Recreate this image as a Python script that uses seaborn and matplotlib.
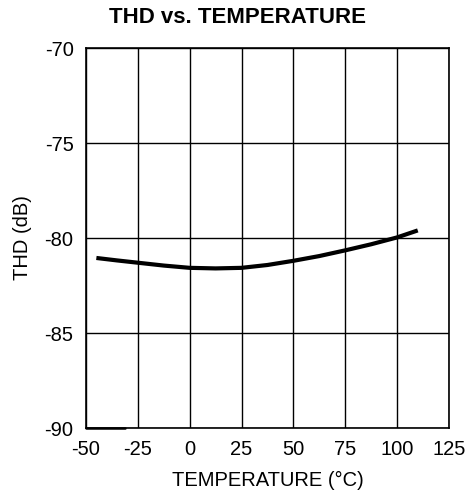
import numpy as np
import pandas as pd
import matplotlib
matplotlib.use("Agg")
import matplotlib.pyplot as plt
import seaborn as sns

temperature = [-45, -35, -25, -12.5, 0, 12.5, 25, 37.5, 50, 62.5, 75, 87.5, 100, 110]
thd_db = [-81.05, -81.18, -81.3, -81.45, -81.57, -81.6, -81.57, -81.42,
          -81.2, -80.95, -80.65, -80.33, -79.97, -79.6]

# short stub along the bottom edge seen in the original
stub_temp = [-50, -31]
stub_thd = [-90, -90]

x_ticks = [-50, -25, 0, 25, 50, 75, 100, 125]
y_ticks = [-90, -85, -80, -75, -70]

sns.set_theme(style="white")
plt.rcParams["font.family"] = ["Liberation Sans", "DejaVu Sans"]

df = pd.DataFrame({"temp": temperature, "thd": thd_db})

fig = plt.figure(figsize=(4.71, 4.97), dpi=100)
ax = fig.add_axes([0.1826, 0.1388, 0.7704, 0.7646])

sns.lineplot(data=df, x="temp", y="thd", ax=ax, color="black", lw=3,
             sort=True, solid_capstyle="butt")
ax.plot(stub_temp, stub_thd, color="black", lw=1.8, clip_on=False)

ax.set_xlim(-50, 125)
ax.set_ylim(-90, -70)
ax.set_xticks(x_ticks)
ax.set_yticks(y_ticks)
ax.set_xticklabels([str(t) for t in x_ticks], fontsize=14.5)
ax.set_yticklabels([str(t) for t in y_ticks], fontsize=14.5)
ax.tick_params(axis="x", length=0, pad=8.5, colors="black")
ax.tick_params(axis="y", length=0, pad=9, colors="black")
ax.grid(True, color="black", lw=1)
for s in ax.spines.values():
    s.set_color("black")
    s.set_linewidth(1.2)

ax.set_xlabel("TEMPERATURE (°C)", fontsize=14.5, color="black", labelpad=9)
ax.set_ylabel("THD (dB)", fontsize=14.5, color="black", labelpad=9)
fig.text(0.505, 0.965, "THD vs. TEMPERATURE", fontsize=16, fontweight="bold",
         color="black", ha="center", va="center")

plt.savefig("out.png", dpi=100)
plt.close()
